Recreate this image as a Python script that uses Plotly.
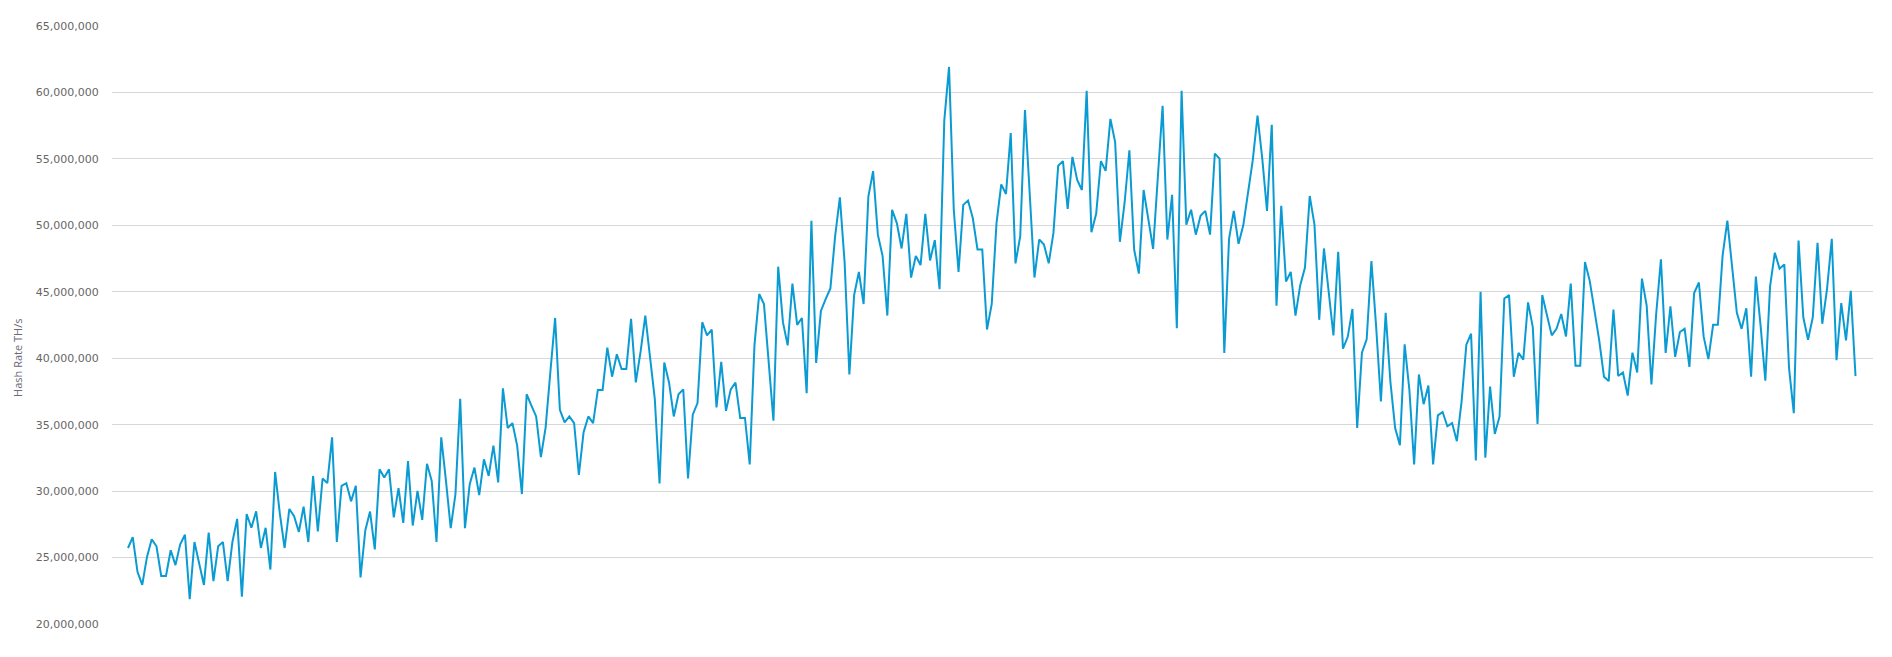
import plotly.graph_objects as go

# Daily hash rate values (millions of TH/s)
seg1 = [25.72, 26.54, 23.93, 22.94, 25.05, 26.37, 25.85, 23.61, 23.61, 25.55, 24.43, 26.0, 26.72, 21.87, 26.17, 24.6,
        22.94, 26.87, 23.23, 25.85, 26.17, 23.23, 26.17, 27.91, 22.06, 28.28, 27.24, 28.48, 25.72, 27.24, 24.10, 31.44,
        28.28, 25.72, 28.66, 28.11, 26.92, 28.83, 26.17, 31.14, 26.97,
        30.95, 30.60, 34.05, 26.17, 30.40, 30.60, 29.23, 30.40, 23.51, 27.04, 28.46, 25.62, 31.64, 31.02, 31.64, 28.03,
        30.22, 27.61, 32.26, 27.41, 30.02, 27.84, 32.06, 30.77, 26.17, 34.05, 30.77, 27.21, 29.78, 36.94, 27.21, 30.52,
        31.77, 29.70, 32.39, 31.14, 33.43, 30.65]
seg2 = [37.74, 34.75, 35.12, 33.43, 29.78, 37.29, 36.44, 35.62, 32.56, 34.80, 38.98, 43.03, 36.12, 35.17, 35.62, 35.12,
        31.22, 34.43, 35.62, 35.12, 37.61, 37.61, 40.80, 38.61, 40.30, 39.18, 39.18, 42.96, 38.18, 40.47, 43.21, 39.98,
        36.94, 30.57, 39.68, 38.18, 35.62, 37.29,
        37.66, 30.95, 35.75, 36.62, 42.71, 41.72, 42.16, 36.29, 39.73, 36.04, 37.66, 38.16, 35.50, 35.50, 32.01, 40.97,
        44.83, 44.08, 39.73, 35.30, 46.89, 42.71, 40.97, 45.62, 42.51, 43.03, 37.36, 50.35, 39.65, 43.56, 44.45, 45.25,
        49.18, 52.11, 47.19, 38.78, 44.75, 46.49]
seg3 = [44.08, 52.16, 54.08, 49.30, 47.69, 43.21, 51.17, 50.17, 48.26, 50.87, 46.07, 47.69, 47.01, 50.87, 47.36, 48.88,
        45.20, 57.89, 61.92, 51.17, 46.49, 51.54, 51.87, 50.55, 48.18, 48.18, 42.16, 44.08, 50.17, 53.08, 52.36, 56.94,
        47.14, 49.18, 58.68, 52.21, 46.07, 48.93,
        48.56, 47.14, 49.43, 54.48, 54.83, 51.24, 55.15, 53.41, 52.66, 60.12, 49.48, 50.87, 54.83, 54.10, 58.01, 56.27,
        48.76, 51.72, 55.65, 48.18, 46.37, 52.66, 50.30, 48.23, 53.66, 59.00, 48.93, 52.29, 42.26, 60.12, 50.05, 51.17,
        49.30, 50.72, 51.09, 49.30, 55.40, 55.02, 40.40, 48.98, 51.09, 48.61, 50.0, 52.29]
seg4 = [54.90, 58.26, 55.02, 51.09, 57.56, 43.96, 51.47, 45.77, 46.49, 43.21, 45.50, 46.82, 52.21, 50.05, 42.89, 48.26,
        45.20, 41.72, 48.01, 40.72, 41.59, 43.71, 34.75, 40.42, 41.42, 47.31, 42.34, 36.74, 43.41, 38.23, 34.75, 33.46,
        41.04, 37.61, 32.01, 38.78, 36.54, 37.94, 32.01, 35.70, 35.95, 34.88, 35.12, 33.76,
        36.74, 41.02, 41.84, 32.31, 45.0, 32.51, 37.86, 34.30, 35.62, 44.50, 44.75, 38.61, 40.40, 39.90, 44.20, 42.34,
        35.05, 44.75, 43.21, 41.72, 42.21, 43.33, 41.64, 45.62, 39.43, 39.43, 47.24, 45.82, 43.58, 41.34, 38.61, 38.28,
        43.66, 38.66, 38.93, 37.19, 40.42, 38.93, 45.99, 43.96, 38.03, 43.33, 47.44, 40.40]
seg5 = [43.91, 40.10, 41.97, 42.21, 39.35, 44.90, 45.70, 41.64, 39.93, 42.51, 42.51, 47.74, 50.35, 46.69, 43.41, 42.21,
        43.76, 38.61, 46.14, 42.46, 38.31, 45.40, 47.94, 46.74, 47.06, 39.23, 35.87, 48.86, 43.08, 41.39, 43.08, 48.68,
        42.59, 45.20, 48.98, 39.85, 44.15, 41.34, 45.07, 38.66]

hash_rate = [v * 1e6 for v in seg1 + seg2 + seg3 + seg4 + seg5]
days = list(range(len(hash_rate)))
y_ticks = [20e6, 25e6, 30e6, 35e6, 40e6, 45e6, 50e6, 55e6, 60e6, 65e6]

# page body has an 8px margin; figure placed at (8, 8)
OFF = 8
W, H = 1892 - OFF, 657 - OFF
L, R, T, B = 112 - OFF, 19, 21 - OFF, 33
plot_w = W - L - R
n = len(hash_rate)
step = (1855.5 - 128) / (n - 1)
x0 = -(128 - 112) / step
x1 = (n - 1) + (1873 - 1855.5) / step

fig = go.Figure()
fig.add_trace(go.Scatter(
    x=days, y=hash_rate, mode="lines",
    line=dict(color="#0b9bd3", width=2),
    hoverinfo="y", showlegend=False,
))

fig.update_layout(
    width=W, height=H,
    margin=dict(l=L, r=R, t=T, b=B),
    paper_bgcolor="white", plot_bgcolor="white",
    font=dict(family="Verdana, DejaVu Sans, sans-serif", size=11, color="#666666"),
    xaxis=dict(range=[x0, x1], showgrid=False, showticklabels=False, zeroline=False,
               showline=False, ticks=""),
    yaxis=dict(range=[20e6, 65e6], tickvals=y_ticks, tickformat=",d",
               showgrid=True, gridcolor="#d8d8d8", gridwidth=1, zeroline=False,
               showline=False, ticks="outside", ticklen=10, tickcolor="rgba(0,0,0,0)",
               tickfont=dict(size=11, color="#666666")),
    annotations=[dict(
        text="Hash Rate TH/s", xref="paper", yref="paper",
        x=(18 - 112) / plot_w, y=0.445, xanchor="center", yanchor="middle",
        textangle=-90, showarrow=False,
        font=dict(family="Open Sans, DejaVu Sans, sans-serif", size=11, color="#6a6a78"),
    )],
)

fig.write_html("out.html")
